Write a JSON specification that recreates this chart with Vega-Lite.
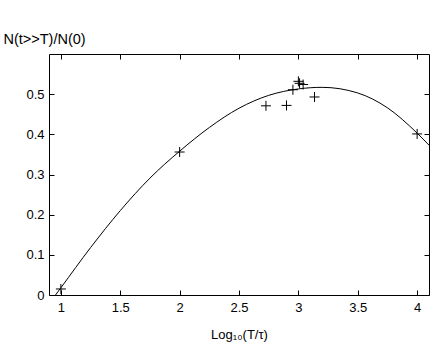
{
  "$schema": "https://vega.github.io/schema/vega-lite/v6.json",
  "autosize": "none",
  "width": 380,
  "height": 241,
  "padding": {"left": 49, "top": 54, "right": 7, "bottom": 53},
  "background": "white",
  "config": {
    "view": {"stroke": "black", "strokeWidth": 1},
    "font": "Liberation Sans",
    "axis": {"grid": false, "domain": false, "tickColor": "black", "tickSize": -5, "labelFont": "Liberation Sans", "labelFontSize": 13, "labelColor": "black", "titleFont": "Liberation Sans", "titleFontSize": 13, "titleFontWeight": "normal", "titleColor": "black", "format": "~g"}
  },
  "datasets": {
    "curve": [
      {"x": 0.955, "y": 0.0},
      {"x": 1.0, "y": 0.018},
      {"x": 1.25, "y": 0.118},
      {"x": 1.5, "y": 0.21},
      {"x": 1.75, "y": 0.291},
      {"x": 2.0, "y": 0.358},
      {"x": 2.25, "y": 0.417},
      {"x": 2.5, "y": 0.465},
      {"x": 2.75, "y": 0.497},
      {"x": 3.0, "y": 0.513},
      {"x": 3.2, "y": 0.517},
      {"x": 3.5, "y": 0.503},
      {"x": 3.75, "y": 0.466},
      {"x": 4.0, "y": 0.403},
      {"x": 4.1, "y": 0.373}
    ],
    "obs": [
      {"x": 1.0, "y": 0.015},
      {"x": 2.0, "y": 0.356},
      {"x": 2.727, "y": 0.471},
      {"x": 2.9, "y": 0.472},
      {"x": 2.954, "y": 0.511},
      {"x": 3.0, "y": 0.532},
      {"x": 3.01, "y": 0.527},
      {"x": 3.04, "y": 0.524},
      {"x": 3.136, "y": 0.493},
      {"x": 4.0, "y": 0.401}
    ]
  },
  "layer": [
    {
      "data": {"name": "curve"},
      "mark": {"type": "line", "color": "black", "strokeWidth": 1, "interpolate": "monotone", "clip": true},
      "encoding": {
        "x": {"field": "x", "type": "quantitative", "scale": {"domain": [0.9, 4.1], "nice": false, "zero": false},
          "axis": {"orient": "bottom", "values": [1, 1.5, 2, 2.5, 3, 3.5, 4], "labelPadding": 11, "title": "Log₁₀(T/τ)", "titlePadding": 14}},
        "y": {"field": "y", "type": "quantitative", "scale": {"domain": [0, 0.6], "nice": false},
          "axis": {"orient": "left", "values": [0, 0.1, 0.2, 0.3, 0.4, 0.5], "labelPadding": 10, "title": "N(t>>T)/N(0)", "titleFontSize": 14.5, "titleAngle": 0, "titleAlign": "left", "titleBaseline": "middle", "titleX": -46, "titleY": -15}}
      }
    },
    {
      "data": {"name": "obs"},
      "mark": {"type": "point", "shape": "M-1,0L1,0M0,-1L0,1", "size": 100, "filled": false, "stroke": "black", "strokeWidth": 1, "opacity": 1},
      "encoding": {
        "x": {"field": "x", "type": "quantitative", "axis": {"orient": "top", "values": [1, 1.5, 2, 2.5, 3, 3.5, 4], "labels": false, "title": null}},
        "y": {"field": "y", "type": "quantitative", "axis": {"orient": "right", "values": [0, 0.1, 0.2, 0.3, 0.4, 0.5], "labels": false, "title": null}}
      }
    }
  ],
  "resolve": {"axis": {"x": "independent", "y": "independent"}}
}
